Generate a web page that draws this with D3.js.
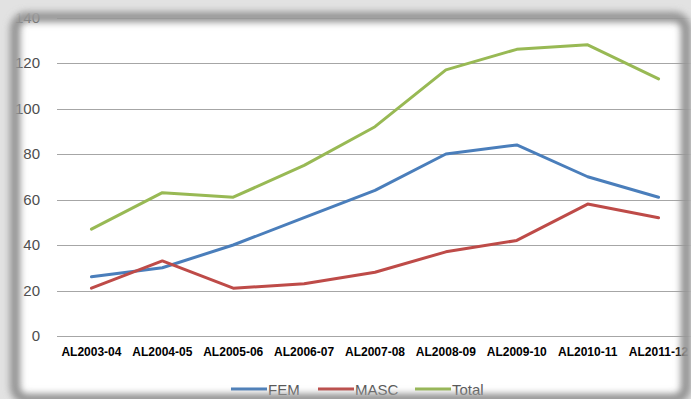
<!DOCTYPE html>
<html>
<head>
<meta charset="utf-8">
<script src="https://cdn.jsdelivr.net/npm/d3@7"></script>
<style>
  html, body { margin: 0; padding: 0; background: #ffffff; }
  svg { display: block; }
</style>
</head>
<body>
<svg id="chart" width="691" height="399"></svg>
<script>
// Academic years on the category axis
const categories = ["AL2003-04", "AL2004-05", "AL2005-06", "AL2006-07", "AL2007-08",
                    "AL2008-09", "AL2009-10", "AL2010-11", "AL2011-12"];
// Counts per year
const femValues   = [26, 30, 40, 52, 64, 80, 84, 70, 61];
const mascValues  = [21, 33, 21, 23, 28, 37, 42, 58, 52];
const totalValues = [47, 63, 61, 75, 92, 117, 126, 128, 113];
// Value axis ticks
const yTicks = [0, 20, 40, 60, 80, 100, 120, 140];

const seriesNames = ["FEM", "MASC", "Total"];
const seriesColors = ["#4a7ebb", "#be4b48", "#98b954"];
const seriesValues = [femValues, mascValues, totalValues];

const W = 691, H = 399;
const svg = d3.select("#chart");
const font = "'Liberation Sans', Arial, sans-serif";

svg.append("rect").attr("width", W).attr("height", H).attr("fill", "#ffffff");

const x = d3.scaleBand().domain(categories).range([56, 694]);
const y = d3.scaleLinear().domain([0, 140]).range([336, 17.5]);
const cx = c => x(c) + x.bandwidth() / 2;

// Horizontal gridlines
svg.append("g")
  .selectAll("line")
  .data(yTicks)
  .join("line")
  .attr("x1", 57).attr("x2", 694)
  .attr("y1", d => Math.round(y(d)) + 0.5)
  .attr("y2", d => Math.round(y(d)) + 0.5)
  .attr("stroke", "#a6a6a6")
  .attr("stroke-width", 1.2);

// Value axis labels
const yAxis = d3.axisLeft(y).tickValues(yTicks).tickSize(0).tickPadding(0);
const gy = svg.append("g").attr("transform", "translate(40,0)").call(yAxis);
gy.select(".domain").remove();
gy.selectAll("text")
  .style("font-family", font)
  .style("font-size", "15px")
  .attr("fill", "#4d4d4d");

// Category axis labels
const xAxis = d3.axisBottom(x).tickSize(0).tickPadding(0);
const gx = svg.append("g").attr("transform", "translate(0,347)").call(xAxis);
gx.select(".domain").remove();
gx.selectAll("text")
  .style("font-family", font)
  .style("font-size", "12px")
  .style("font-weight", "bold")
  .attr("fill", "#000");

// Series lines
const line = d3.line()
  .x((d, i) => cx(categories[i]))
  .y(d => y(d));

seriesValues.forEach((vals, k) => {
  svg.append("path")
    .datum(vals)
    .attr("d", line)
    .attr("fill", "none")
    .attr("stroke", seriesColors[k])
    .attr("stroke-width", 3)
    .attr("stroke-linejoin", "round")
    .attr("stroke-linecap", "round");
});

// Legend
const legendItems = [
  { name: seriesNames[0], color: seriesColors[0], x0: 231 },
  { name: seriesNames[1], color: seriesColors[1], x0: 318 },
  { name: seriesNames[2], color: seriesColors[2], x0: 415 }
];
const lg = svg.append("g");
legendItems.forEach(it => {
  lg.append("line")
    .attr("x1", it.x0).attr("x2", it.x0 + 36)
    .attr("y1", 389).attr("y2", 389)
    .attr("stroke", it.color).attr("stroke-width", 3);
  lg.append("text")
    .attr("x", it.x0 + 37).attr("y", 394.5)
    .style("font-family", font).style("font-size", "15px")
    .attr("fill", "#595959")
    .text(it.name);
});

// Soft bevelled frame around the chart panel
const defs = svg.append("defs");
defs.append("filter").attr("id", "soft")
  .attr("x", "-10%").attr("y", "-10%").attr("width", "120%").attr("height", "120%")
  .append("feGaussianBlur").attr("stdDeviation", 3.5);
defs.append("filter").attr("id", "softer")
  .attr("x", "-10%").attr("y", "-10%").attr("width", "120%").attr("height", "120%")
  .append("feGaussianBlur").attr("stdDeviation", 5);

const fx = 15, fy = 17, fw = 671, fh = 382, fr = 12;
const roundRect = (x0, y0, w, h, r) =>
  `M${x0 + r},${y0}H${x0 + w - r}A${r},${r} 0 0 1 ${x0 + w},${y0 + r}` +
  `V${y0 + h - r}A${r},${r} 0 0 1 ${x0 + w - r},${y0 + h}` +
  `H${x0 + r}A${r},${r} 0 0 1 ${x0},${y0 + h - r}V${y0 + r}A${r},${r} 0 0 1 ${x0 + r},${y0}Z`;

const frame = svg.append("g");
frame.append("path")
  .attr("d", `M-30,-30H${W + 30}V${H + 30}H-30Z` + roundRect(fx, fy, fw, fh, fr))
  .attr("fill-rule", "evenodd")
  .attr("fill", "#e2e2e2")
  .attr("filter", "url(#softer)");
frame.append("path")
  .attr("d", roundRect(fx, fy, fw, fh, fr))
  .attr("fill", "none")
  .attr("stroke", "#909090")
  .attr("stroke-width", 10)
  .attr("filter", "url(#soft)");
</script>
</body>
</html>
